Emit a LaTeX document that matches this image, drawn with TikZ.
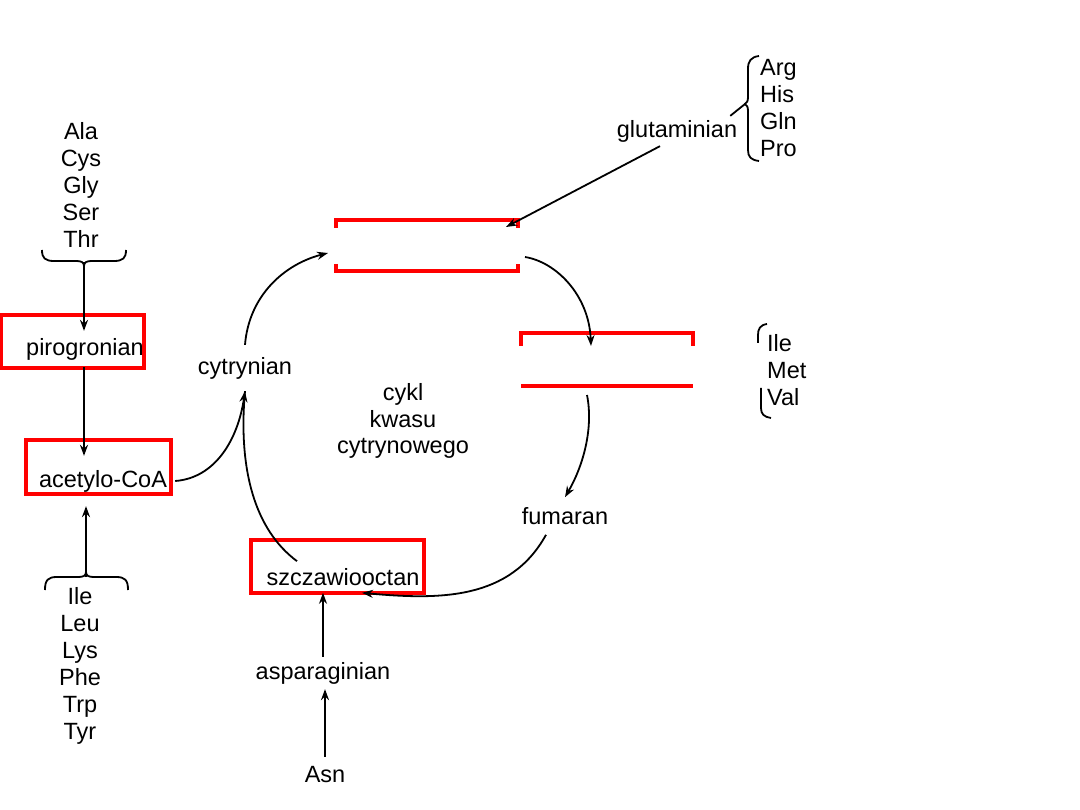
\documentclass[tikz,border=0pt]{standalone}
\usepackage{fontspec}
\setmainfont{Liberation Sans}
\usetikzlibrary{arrows.meta}
\begin{document}
\begin{tikzpicture}[x=1pt,y=-1pt,
  lbl/.style={font=\fontsize{23.5}{27}\selectfont, inner xsep=3pt, inner ysep=4pt, anchor=center},
  conn/.style={line width=1.8pt, black},
  arr/.style={conn, -{Stealth[length=11pt,width=8pt]}},
  redbox/.style={draw=red, line width=3.5pt},
]
\useasboundingbox (0,0) rectangle (1080,810);

% ---------- text nodes ----------
\node[lbl, align=center] (topaa) at (81,185) {Ala\\Cys\\Gly\\Ser\\Thr};
\node[lbl, inner ysep=7pt] (pir) at (85,349) {pirogronian};
\node[lbl, inner ysep=14pt] (acoa) at (103,481) {acetylo-CoA};
\node[lbl, align=center] (botaa) at (80,666) {Ile\\Leu\\Lys\\Phe\\Trp\\Tyr};
\node[lbl, inner ysep=12pt] (cyt) at (245,368) {cytrynian};
\node[lbl, align=center, font=\fontsize{23.5}{26.5}\selectfont] (cykl) at (403,421) {cykl\\kwasu\\cytrynowego};
\node[lbl, inner ysep=10pt] (fum) at (565,516) {fumaran};
\node[lbl, inner ysep=7pt] (szcz) at (343,577) {szczawiooctan};
\node[lbl, inner ysep=5pt] (asp) at (323,673) {asparaginian};
\node[lbl, inner ysep=10pt] (asn) at (325,775) {Asn};
\node[lbl] (glu) at (677,131) {glutaminian};
\node[lbl, align=left, anchor=west] (agp) at (757,108) {Arg\\His\\Gln\\Pro};
\node[lbl, align=left, anchor=west] (imv) at (764,370) {Ile\\Met\\Val};

% ---------- red boxes ----------
\draw[redbox] (1,315) rectangle (144,368);
\draw[redbox] (26,440) rectangle (171,494);
\draw[redbox] (251,540) rectangle (424,593);
\draw[redbox] (336,228) -- (336,220) -- (518,220) -- (518,228);
\draw[redbox] (336,264) -- (336,271) -- (518,271) -- (518,264);
\draw[redbox] (521,346) -- (521,333) -- (693,333) -- (693,346);
\draw[redbox] (521,386) -- (693,386);

% ---------- named free ends ----------
\coordinate (tb) at (84,262);
\coordinate (bb) at (86,577);
\coordinate (topL) at (328,253);
\coordinate (topR) at (506,227);
\coordinate (topOut) at (525,257);
\coordinate (midIn) at (591,346);
\coordinate (midOut) at (587,395);
\coordinate (gtip) at (745,104);

% ---------- braces ----------
\draw[conn] (42,250) .. controls (42,258) and (45,261) .. (54,261) -- (76,261)
  .. controls (81,261) and (84,262) .. (84,266)
  .. controls (84,262) and (87,261) .. (92,261) -- (114,261)
  .. controls (123,261) and (126,258) .. (126,250);
\draw[conn] (45,590) .. controls (45,580) and (48,577) .. (57,577) -- (78,577)
  .. controls (83,577) and (86,576) .. (86,572)
  .. controls (86,576) and (89,577) .. (94,577) -- (116,577)
  .. controls (125,577) and (128,580) .. (128,590);
\draw[conn] (759,56) .. controls (751,57) and (748,61) .. (748,69) -- (748,97)
  .. controls (748,101) and (747,103) .. (gtip)
  .. controls (747,105) and (748,107) .. (748,111) -- (748,150)
  .. controls (748,157) and (751,160) .. (759,161);
\draw[conn] (767,324) .. controls (760,325) and (758,329) .. (758,335) -- (758,343);
\draw[conn] (761,388) -- (761,408) .. controls (761,414) and (764,417) .. (771,418);

% ---------- connectors ----------
\draw[arr] (tb) -- (tb |- pir.north);
\draw[arr] (tb |- pir.south) -- (tb |- acoa.north);
\draw[arr] (bb) -- (bb |- acoa.south);
\draw[arr] ([xshift=5pt]acoa.east) .. controls (215,478) and (238,440) .. (cyt.south);
\draw[conn] ([xshift=-46pt]szcz.north) .. controls (255,530) and (238,470) .. (cyt.south);
\draw[arr] (cyt.north) .. controls (249,295) and (285,264) .. (topL);
\draw[conn] ([xshift=-10pt]glu.north east) -- (gtip);
\draw[arr] ([xshift=-17pt]glu.south) -- (topR);
\draw[arr] (topOut) .. controls (556,262) and (589,295) .. (midIn);
\draw[arr] (midOut) .. controls (594,430) and (582,468) .. (fum.north);
\draw[arr] ([xshift=-19pt]fum.south) .. controls (510,600) and (440,600) .. ([xshift=19pt]szcz.south);
\draw[arr] (asp.north) -- (asp.north |- szcz.south);
\draw[arr] (asn.north) -- (asn.north |- asp.south);
\end{tikzpicture}
\end{document}
